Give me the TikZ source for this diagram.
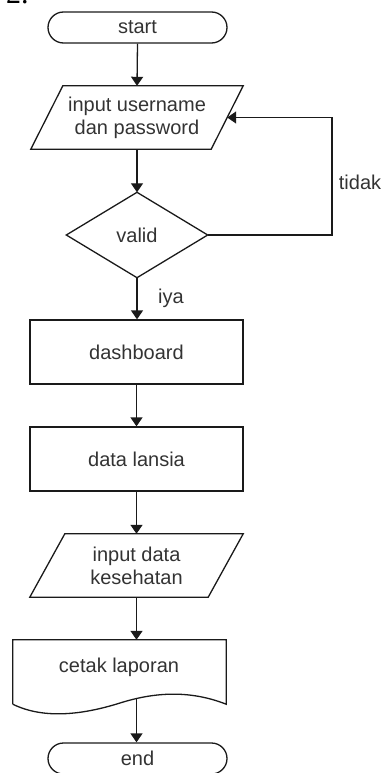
\documentclass[tikz,border=0pt]{standalone}
\usepackage{fontspec}
\setmainfont{Liberation Sans}
\newfontfamily\serifnum{Liberation Serif}
\usetikzlibrary{arrows.meta,calc}
\definecolor{txt}{HTML}{333333}
\definecolor{ln}{HTML}{1A1A1A}
\begin{document}
\begin{tikzpicture}[x=1pt,y=-1pt,
  every node/.style={font=\fontsize{20}{23}\selectfont, text=txt, align=center, inner sep=0pt},
  box/.style={draw=ln, line width=1.3pt, minimum width=213pt, minimum height=64pt},
  term/.style={draw=ln, line width=1.3pt, rounded corners=15.5pt, minimum width=179pt, minimum height=31pt},
  frame/.style={minimum width=#1},
  shapeline/.style={draw=ln, line width=1.3pt, line join=miter},
  flow/.style={draw=ln, line width=1.3pt, -{Triangle[width=12pt,length=9pt]}},
  lbl/.style={font=\fontsize{20}{23}\selectfont}
]
\useasboundingbox (0,0) rectangle (384,773);

% heading
\node[anchor=base west, font=\serifnum\fontsize{30}{30}\selectfont, text=black] (num) at (6,4) {2.};

% start
\node[term] (start) at (137.5,27.5) {start};

% input username
\node[minimum width=212pt, minimum height=63pt] (in1) at (137,117.5) {input username\\dan password};
\draw[shapeline] ($(in1.north west)+(32,0)$) -- (in1.north east) -- ($(in1.south east)-(32,0)$) -- (in1.south west) -- cycle;
\coordinate (in1r) at ($(in1.east)-(16,0)$);

% valid diamond
\node[minimum width=141pt, minimum height=85pt] (valid) at (137,235) {valid};
\draw[shapeline] (valid.north) -- (valid.east) -- (valid.south) -- (valid.west) -- cycle;

% dashboard, data lansia
\node[box] (dash) at (136.5,352) {dashboard};
\node[box] (lansia) at (136.5,459) {data lansia};

% input data kesehatan
\node[minimum width=213pt, minimum height=63pt] (in2) at (136.5,565.5) {input data\\kesehatan};
\draw[shapeline] ($(in2.north west)+(35,0)$) -- (in2.north east) -- ($(in2.south east)-(35,0)$) -- (in2.south west) -- cycle;

% document
\node[minimum width=213pt, minimum height=64pt] (doc) at (119.5,672) {};
\node (doctext) at (119,667) {cetak laporan};
\draw[shapeline] (doc.south west) -- (doc.north west) -- (doc.north east) -- (doc.south east)
  .. controls (190,690) and (155,692) .. (120,703)
  .. controls (85,714) and (45,720) .. (doc.south west);
\coordinate (docbot) at (136.5,699);

% end
\node[term] (end) at (137.5,758.5) {end};

% connectors
\draw[flow] (start.south) -- (in1.north);
\draw[flow] (in1.south) -- (valid.north);
\draw[flow] (valid.south) -- (valid.south |- dash.north);
\draw[flow] (dash.south) -- (lansia.north);
\draw[flow] (lansia.south) -- (in2.north);
\draw[flow] (in2.south) -- (in2.south |- doc.north);
\draw[flow] (docbot) -- (docbot |- end.north);
\coordinate (loopc) at (332,235);
\draw[flow] (valid.east) -- (loopc) -- (loopc |- in1r) -- (in1r);

% labels
\node[lbl] (tidak) at (360,182) {tidak};
\node[lbl] (iya) at (171,298) {iya};
\end{tikzpicture}
\end{document}
